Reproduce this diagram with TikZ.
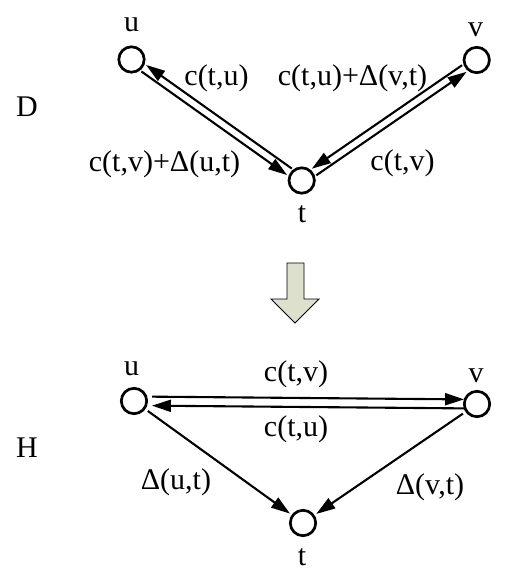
\documentclass[tikz,border=0pt]{standalone}
\usepackage{fontspec}
\setmainfont{Liberation Serif}
\usetikzlibrary{calc,arrows.meta}
\definecolor{arrowfill}{RGB}{221,224,205}
\begin{document}
\begin{tikzpicture}[x=1pt,y=-1pt,
  vtx/.style={circle,draw,line width=2.7pt,minimum size=25.4pt,inner sep=0pt},
  lbl/.style={anchor=base,inner sep=0pt,font=\fontsize{30}{32}\selectfont},
  arr/.style={line width=2.1pt,-{Triangle[length=19pt,width=12pt]}}]
\useasboundingbox (0,0) rectangle (518,577);
% ---- D graph ----
\node[vtx] (u1) at (131.5,59.5) {};
\node[vtx] (v1) at (476.7,60) {};
\node[vtx] (t1) at (301.7,180.5) {};
\node[lbl] (lu1) at (131.5,32) {u};
\node[lbl] (lv1) at (475.5,37) {v};
\node[lbl] (lt1) at (302,222) {t};
\node[lbl] (D) at (27,117) {D};
\draw[arr,shorten <=15pt,shorten >=15pt] ($(t1.center)!4pt!-90:(u1.center)$) -- ($(u1.center)!4pt!90:(t1.center)$);
\draw[arr,shorten <=15pt,shorten >=15pt] ($(u1.center)!4pt!-90:(t1.center)$) -- ($(t1.center)!4pt!90:(u1.center)$);
\draw[arr,shorten <=15pt,shorten >=15pt] ($(v1.center)!4pt!-90:(t1.center)$) -- ($(t1.center)!4pt!90:(v1.center)$);
\draw[arr,shorten <=15pt,shorten >=15pt] ($(t1.center)!4pt!-90:(v1.center)$) -- ($(v1.center)!4pt!90:(t1.center)$);
\node[lbl] (e1) at (216.5,86) {c(t,u)};
\node[lbl] (e2) at (352.5,86) {c(t,u)+Δ(v,t)};
\node[lbl] (e3) at (164.5,172) {c(t,v)+Δ(u,t)};
\node[lbl] (e4) at (402.5,171) {c(t,v)};
% ---- big arrow ----
\draw[line width=0.9pt,fill=arrowfill] (287,263) -- (304,263) -- (304,299) -- (319,299) -- (295,323) -- (271,299) -- (287,299) -- cycle;
% ---- H graph ----
\node[vtx] (u2) at (134,401) {};
\node[vtx] (v2) at (477,404) {};
\node[vtx] (t2) at (303,523) {};
\node[lbl] (lu2) at (131.5,375) {u};
\node[lbl] (lv2) at (476,382) {v};
\node[lbl] (lt2) at (302,565) {t};
\node[lbl] (H) at (27,457) {H};
\draw[arr,shorten <=18pt,shorten >=13pt] ($(u2.center)!4.5pt!90:(v2.center)$) -- ($(v2.center)!4.5pt!-90:(u2.center)$);
\draw[arr,shorten <=13pt,shorten >=18pt] ($(v2.center)!4.5pt!90:(u2.center)$) -- ($(u2.center)!4.5pt!-90:(v2.center)$);
\draw[arr,shorten <=3pt,shorten >=2pt] (u2) -- (t2);
\draw[arr,shorten <=3pt,shorten >=2pt] (v2) -- (t2);
\node[lbl] (f1) at (296,381) {c(t,v)};
\node[lbl] (f2) at (296,436) {c(t,u)};
\node[lbl] (f3) at (176,489) {Δ(u,t)};
\node[lbl] (f4) at (430,494) {Δ(v,t)};
\end{tikzpicture}
\end{document}
